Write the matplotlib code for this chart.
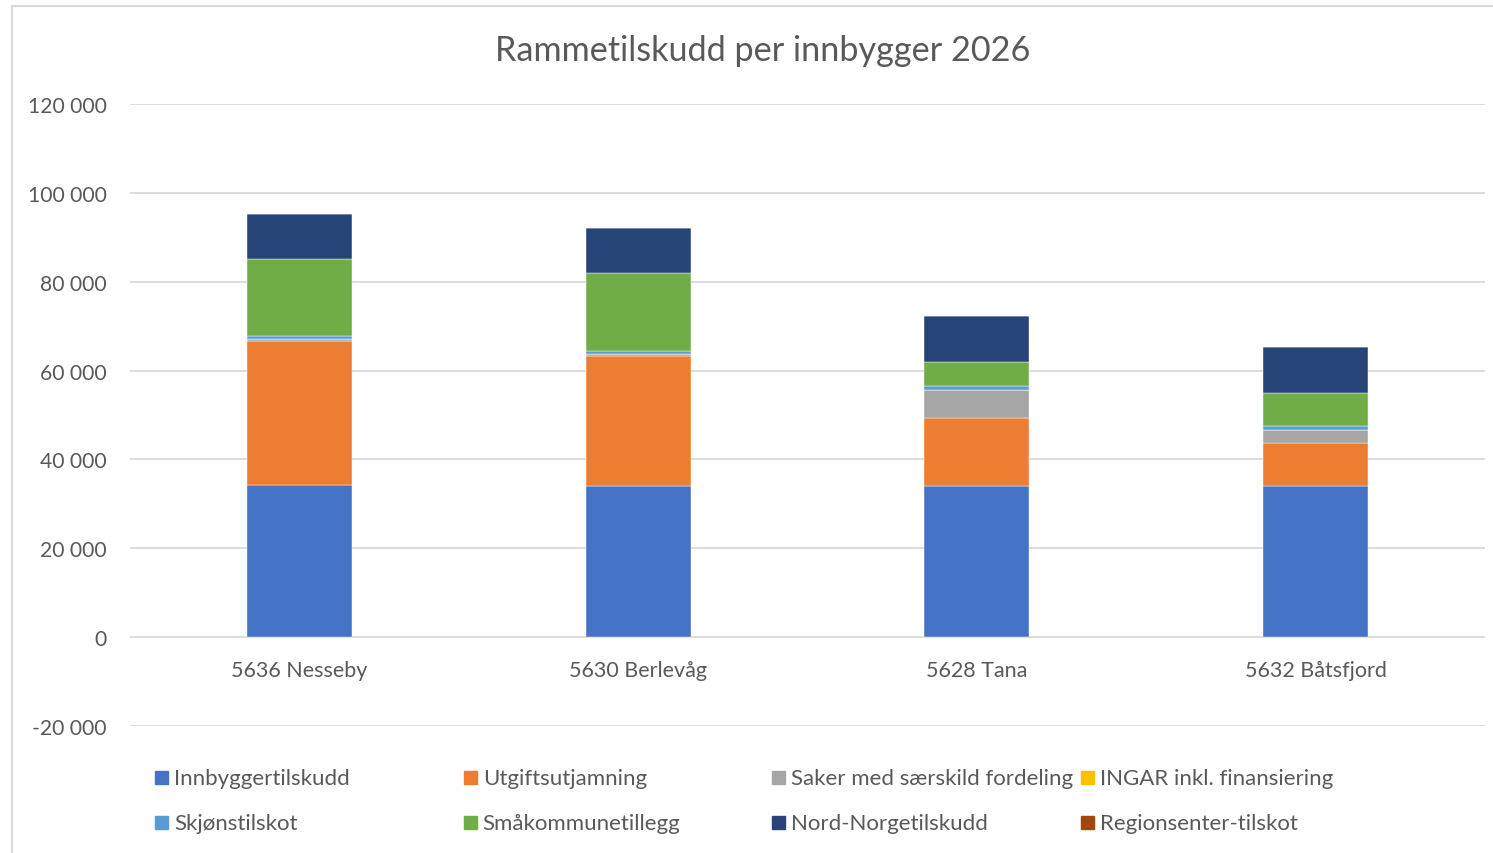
import numpy as np
import matplotlib.pyplot as plt
from matplotlib.patches import Rectangle
from matplotlib.lines import Line2D
from matplotlib.ticker import FuncFormatter

# data (kr per innbygger)
kommuner = ['5636 Nesseby', '5630 Berlevåg', '5628 Tana', '5632 Båtsfjord']
serier = ['Innbyggertilskudd', 'Utgiftsutjamning', 'Saker med særskild fordeling',
          'INGAR inkl. finansiering', 'Skjønstilskot', 'Småkommunetillegg',
          'Nord-Norgetilskudd', 'Regionsenter-tilskot']
innbygger = [34200, 34100, 34100, 34100]
utgift = [32500, 29100, 15300, 9500]
saker = [300, 500, 6300, 3100]
ingar = [0, 0, 0, 0]
skjonn = [700, 800, 900, 900]
smakommune = [17400, 17400, 5400, 7400]
nordnorge = [10200, 10300, 10200, 10200]
regionsenter = [0, 0, 0, 0]
farger = ['#4472C4', '#ED7D31', '#A5A5A5', '#FFC000',
          '#5B9BD5', '#70AD47', '#264478', '#9E480E']

verdier = [innbygger, utgift, saker, ingar, skjonn, smakommune, nordnorge, regionsenter]

plt.rcParams['font.family'] = ['Lato', 'DejaVu Sans']
tekstfarge = '#595959'

fig = plt.figure(figsize=(14.93, 8.54), dpi=100)
W, H = 1493, 854
ax = fig.add_axes([130 / W, 1 - 727 / H, 1355 / W, (727 - 105) / H])

x = np.arange(len(kommuner))
bunn = np.zeros(len(kommuner))
for navn, v, f in zip(serier, verdier, farger):
    ax.bar(x, v, 0.31, bottom=bunn, color=f, label=navn, zorder=3,
           edgecolor='#ffffff', linewidth=0.3)
    bunn += np.array(v)

ax.set_xlim(-0.5, 3.5)
ax.set_ylim(-20000, 120000)
ax.set_yticks(np.arange(-20000, 120001, 20000))
ax.yaxis.set_major_formatter(FuncFormatter(lambda v, p: f'{int(v):,}'.replace(',', ' ')))
ax.grid(axis='y', color='#D9D9D9', linewidth=1.3, zorder=0)
ax.tick_params(axis='y', length=0, pad=17, labelsize=15.2, labelcolor=tekstfarge)
ax.set_xticks([])
for s in ax.spines.values():
    s.set_visible(False)

for i, k in enumerate(kommuner):
    ax.text(i, -7300, k, ha='center', va='center', fontsize=15.5, color=tekstfarge)

fig.text(763 / W, 1 - 51 / H, 'Rammetilskudd per innbygger 2026', ha='center', va='center',
         fontsize=24.7, color=tekstfarge)

# legend laid out like Excel: equal column widths
for i, (navn, f) in enumerate(zip(serier, farger)):
    rad, kol = divmod(i, 4)
    px = 155 + kol * 308.7
    py = 778 + rad * 45
    fig.patches.append(Rectangle((px / W, 1 - (py + 6.5) / H), 13 / W, 13 / H,
                                 transform=fig.transFigure, color=f))
    fig.text((px + 19) / W, 1 - (py + 1) / H, navn, ha='left', va='center',
             fontsize=16, color=tekstfarge)

# chart border (top and left visible)
fig.lines.append(Line2D([12 / W, 1], [1 - 7 / H, 1 - 7 / H], transform=fig.transFigure,
                        color='#D9D9D9', linewidth=1.5))
fig.lines.append(Line2D([12 / W, 12 / W], [0, 1 - 7 / H], transform=fig.transFigure,
                        color='#D9D9D9', linewidth=1.5))

fig.savefig('out.png', dpi=100)
